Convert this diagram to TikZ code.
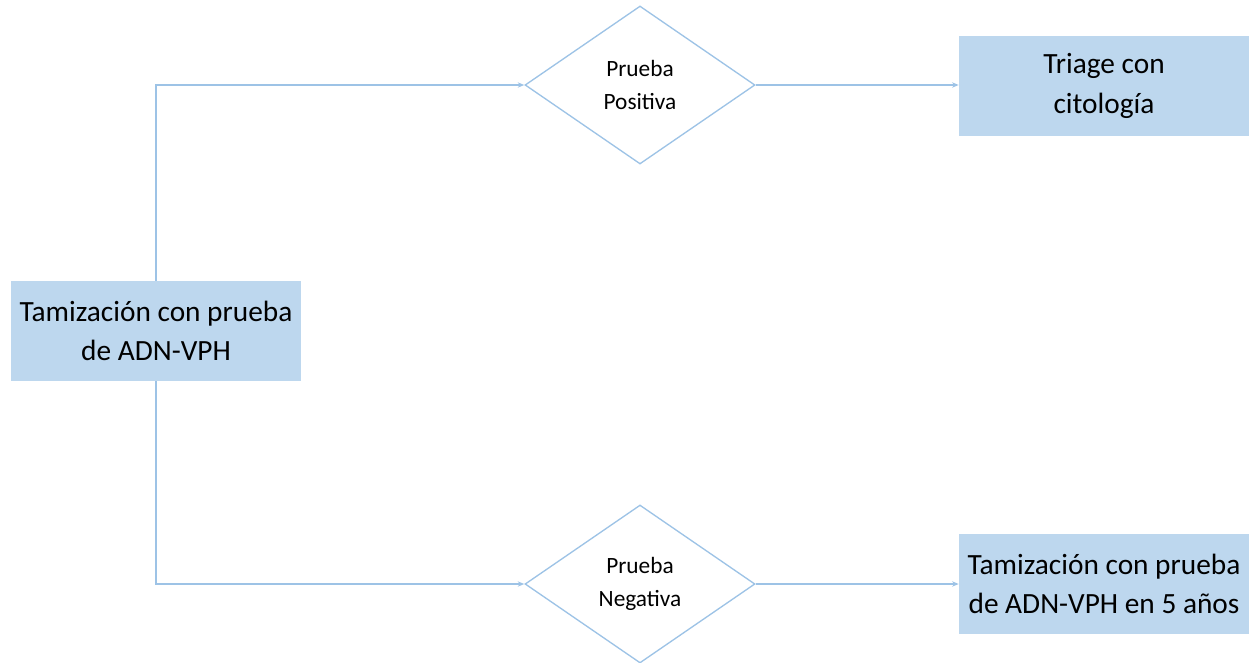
\documentclass[tikz,border=0pt]{standalone}
\usepackage{fontspec}
\setmainfont{Carlito}
\usetikzlibrary{shapes.geometric,arrows.meta}
\definecolor{boxblue}{HTML}{BDD7EE}
\definecolor{lineblue}{HTML}{9DC3E6}
\begin{document}
\begin{tikzpicture}[
  x=0.75pt, y=-0.75pt,
  stepbox/.style={rectangle, fill=boxblue, minimum width=217.5pt, minimum height=75pt,
               inner sep=0pt, align=center, font=\fontsize{22}{29.5}\selectfont},
  test/.style={diamond, draw=lineblue, line width=1pt, fill=white, aspect=1.46,
               minimum width=172.5pt, minimum height=118.5pt, inner sep=0pt,
               align=center, font=\fontsize{17.5}{25}\selectfont},
  arr/.style={-{Stealth[length=5pt,width=4pt]}, line width=1pt, lineblue}
]
\useasboundingbox (0,0) rectangle (1249,663);
\node[stepbox] (tam) at (156,331)  {Tamización con prueba\\de ADN-VPH};
\node[test]    (pos) at (640,85)   {Prueba\\Positiva};
\node[test]    (neg) at (640,584)  {Prueba\\Negativa};
\node[stepbox] (tri) at (1104,86)  {Triage con\\citología};
\node[stepbox] (rep) at (1104,584) {Tamización con prueba\\de ADN-VPH en 5 años};
\draw[arr] (tam.north) |- (pos.west);
\draw[arr] (tam.south) |- (neg.west);
\draw[arr] (pos.east) -- (tri.west |- pos.east);
\draw[arr] (neg.east) -- (rep.west |- neg.east);
\end{tikzpicture}
\end{document}
